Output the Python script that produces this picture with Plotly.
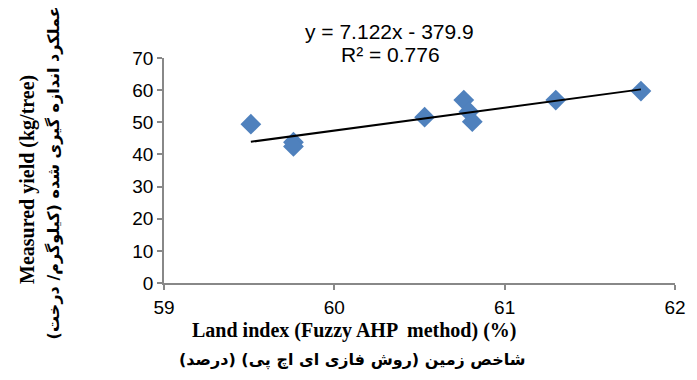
import plotly.graph_objects as go

# Data
land_index = [59.51, 59.76, 59.76, 60.53, 60.76, 60.79, 60.81, 61.30, 61.80]
measured_yield = [49.4, 43.8, 42.5, 51.6, 56.9, 53.3, 50.2, 56.9, 59.7]

# Trendline (as reported on the chart)
slope = 7.122
intercept = -379.9
r_squared = 0.776

x_ticks = [59, 60, 61, 62]
y_ticks = [0, 10, 20, 30, 40, 50, 60, 70]

W, H = 697, 380
L, R, T, B = 164, 11, 58, 97
pw, ph = W - L - R, H - T - B

def px(x):
    return (x - L) / pw

def py(y):
    return (H - B - y) / ph

x_min, x_max = min(land_index), max(land_index)
trend_x = [x_min, x_max]
trend_y = [slope * v + intercept for v in trend_x]

fig = go.Figure()
fig.add_trace(go.Scatter(
    x=land_index, y=measured_yield, mode="markers",
    marker=dict(symbol="diamond", size=16, color="#4F81BD",
                line=dict(width=0)),
    showlegend=False,
))
fig.add_trace(go.Scatter(
    x=trend_x, y=trend_y, mode="lines",
    line=dict(color="black", width=2),
    showlegend=False,
))

axis_col = "#888888"
tick_font = dict(family="Liberation Sans, Arial", size=19, color="black")
fig.update_xaxes(range=[59, 62], tickvals=x_ticks, ticktext=[str(t) for t in x_ticks],
                 showline=True, linecolor=axis_col, linewidth=1.5,
                 ticks="outside", ticklen=5, tickcolor=axis_col, tickwidth=1.5,
                 ticklabelstandoff=1,
                 showgrid=False, zeroline=False, tickfont=tick_font)
fig.update_yaxes(range=[0, 70], tickvals=y_ticks, ticktext=[str(t) for t in y_ticks],
                 showline=True, linecolor=axis_col, linewidth=1.5,
                 ticks="outside", ticklen=5, tickcolor=axis_col, tickwidth=1.5,
                 showgrid=False, zeroline=False, tickfont=tick_font)

title_font = dict(family="Liberation Serif, Times New Roman", size=20, color="black")
fa_font = dict(family="DejaVu Sans", size=16, color="black")
eq_font = dict(family="Liberation Sans, Arial", size=21, color="black")
annots = [
    dict(x=px(394), y=py(32), text=f"y = {slope}x - {abs(intercept)}", font=eq_font),
    dict(x=px(395), y=py(54), text=f"R² = {r_squared}", font=eq_font),
    dict(x=px(358), y=py(330), text="<b>Land index (Fuzzy AHP  method) (%)</b>", font=title_font),
    dict(x=px(356), y=py(360), text="<b>شاخص زمین (روش فازی ای اچ پی) (درصد)</b>", font=fa_font),
    dict(x=px(24), y=py(179), text="<b>Measured yield (kg/tree)</b>", font=title_font, textangle=-90),
    dict(x=px(51), y=py(173), text="<b>عملکرد اندازه گیری شده (کیلوگرم/ درخت)</b>", font=fa_font, textangle=-90),
]
for a in annots:
    a.update(xref="paper", yref="paper", showarrow=False, xanchor="center", yanchor="middle")
fig.update_layout(
    width=W, height=H, margin=dict(l=L, r=R, t=T, b=B),
    paper_bgcolor="white", plot_bgcolor="white",
    annotations=annots,
)

fig.write_html("out.html")
